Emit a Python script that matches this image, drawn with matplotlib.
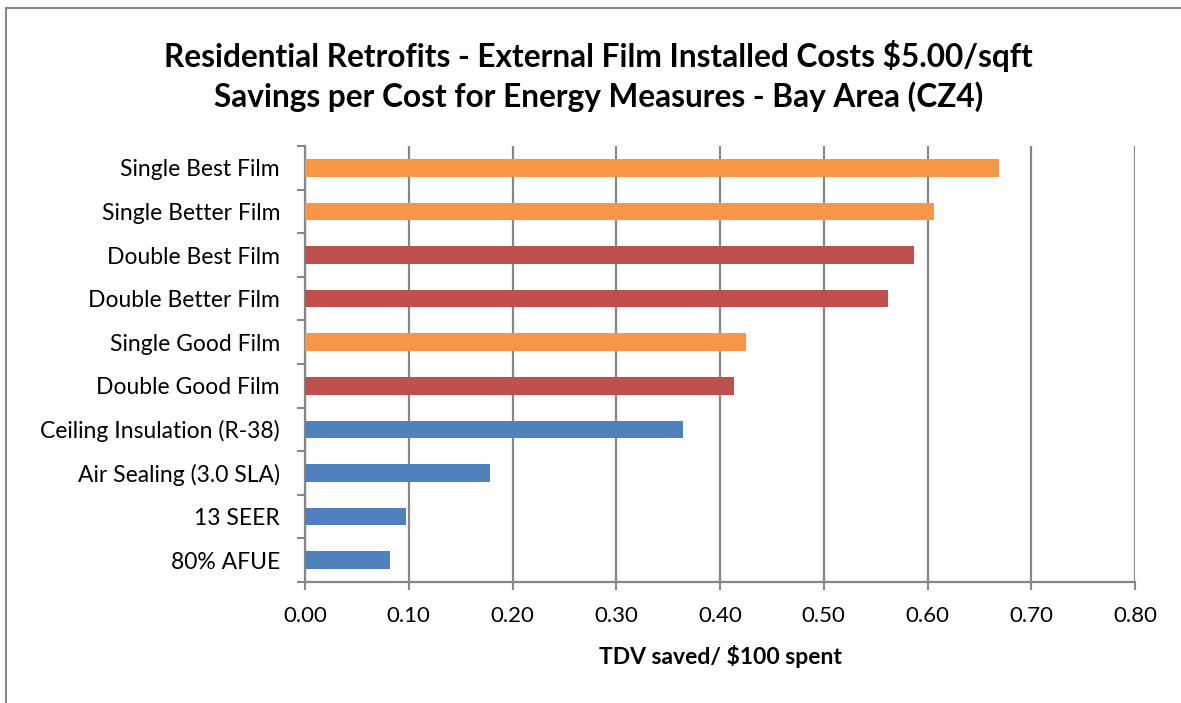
import numpy as np
import matplotlib
matplotlib.use('Agg')
import matplotlib.pyplot as plt
from matplotlib.patches import Rectangle

plt.rcParams['font.family'] = ['Lato', 'DejaVu Sans']

measures = ['Single Best Film', 'Single Better Film', 'Double Best Film', 'Double Better Film',
            'Single Good Film', 'Double Good Film', 'Ceiling Insulation (R-38)',
            'Air Sealing (3.0 SLA)', '13 SEER', '80% AFUE']
savings = [0.669, 0.606, 0.587, 0.562, 0.425, 0.413, 0.364, 0.178, 0.097, 0.082]
kind = ['single', 'single', 'double', 'double', 'single', 'double',
        'base', 'base', 'base', 'base']
colors = {'single': '#F79646', 'double': '#C0504D', 'base': '#4F81BD'}
xticks = [0.0, 0.1, 0.2, 0.3, 0.4, 0.5, 0.6, 0.7, 0.8]

grey = '#878787'

fig = plt.figure(figsize=(11.81, 7.03), dpi=100)
ax = fig.add_axes([0.2583, 0.1721, 0.7028, 0.6202])

y = np.arange(len(measures))
ax.barh(y, savings, height=0.4, color=[colors[k] for k in kind], zorder=3)

ax.set_xlim(0, 0.8)
ax.set_ylim(len(measures) - 0.5, -0.5)
ax.set_xticks(xticks)
ax.set_xticklabels([f'{t:.2f}' for t in xticks], fontsize=16)
ax.set_yticks(y)
ax.set_yticklabels(measures, fontsize=16.5)
ax.set_yticks(np.arange(len(measures) + 1) - 0.5, minor=True)
ax.tick_params(axis='y', which='major', length=0, pad=18)
ax.tick_params(axis='y', which='minor', length=6, width=1.5, color=grey)
ax.tick_params(axis='x', length=6, width=1.5, color=grey, pad=11)

ax.grid(axis='x', color=grey, linewidth=1.6, zorder=0)
for s in ['top', 'right']:
    ax.spines[s].set_visible(False)
for s in ['left', 'bottom']:
    ax.spines[s].set_color(grey)
    ax.spines[s].set_linewidth(1.6)

ax.set_xlabel('TDV saved/ $100 spent', fontsize=16.5, fontweight='bold', labelpad=14)

fig.text(0.507, 0.92, 'Residential Retrofits - External Film Installed Costs $5.00/sqft',
         ha='center', va='center', fontsize=22.8, fontweight='bold')
fig.text(0.507, 0.862, 'Savings per Cost for Energy Measures - Bay Area (CZ4)',
         ha='center', va='center', fontsize=22.8, fontweight='bold')

# chart frame
fig.patches.append(Rectangle((6 / 1181, -0.1), 1.2, 1 - 8 / 703 + 0.1,
                             transform=fig.transFigure, fill=False,
                             edgecolor=grey, linewidth=1.5))

fig.savefig('out.png', dpi=100)
